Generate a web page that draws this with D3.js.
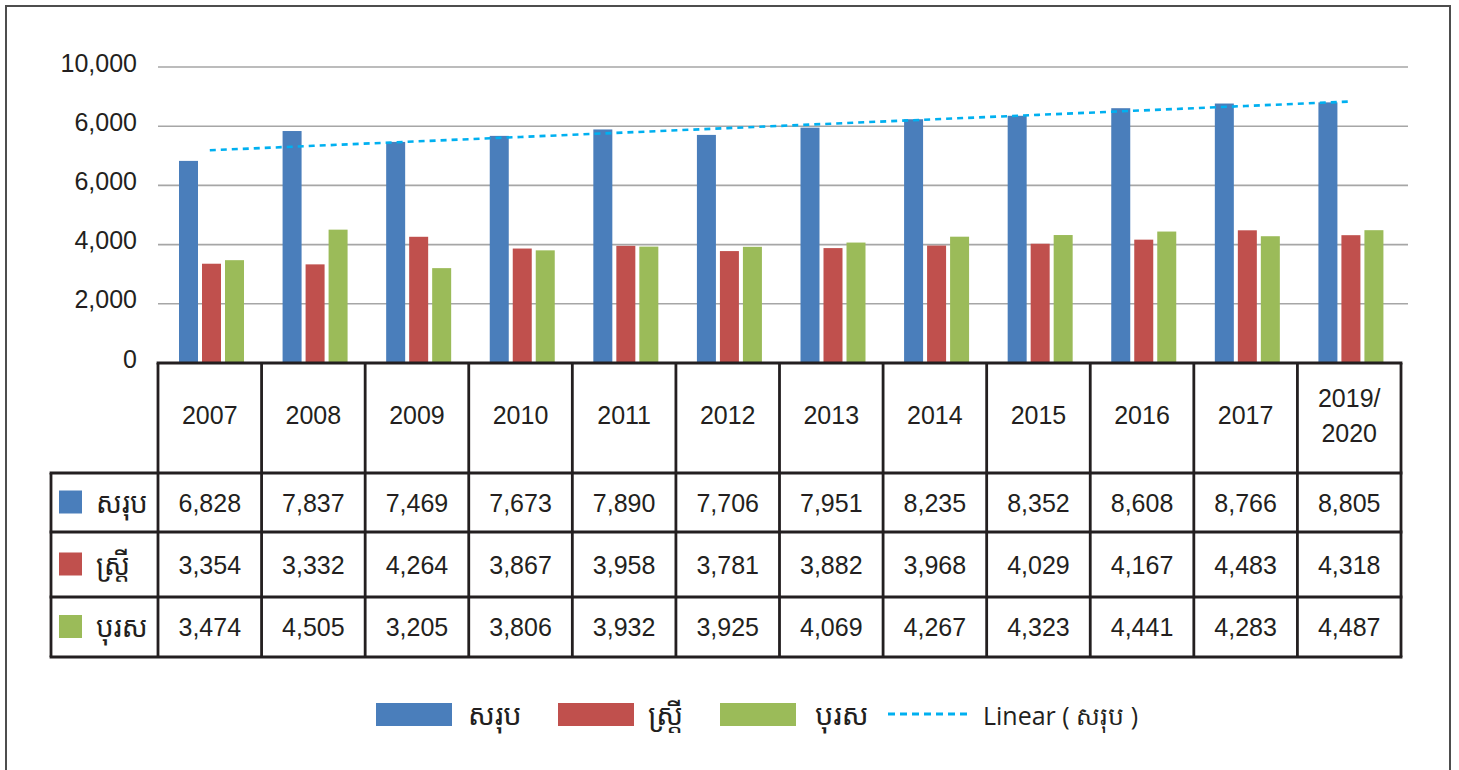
<!DOCTYPE html>
<html>
<head>
<meta charset="utf-8">
<script src="https://cdn.jsdelivr.net/npm/d3@7"></script>
<style>
  body { margin: 0; background: #fff; }
  svg { display: block; }
</style>
</head>
<body>
<div id="chart"></div>
<script>
// données
const categories = ["2007", "2008", "2009", "2010", "2011", "2012", "2013", "2014", "2015", "2016", "2017", "2019/2020"];
const seriesNames = ["សរុប", "ស្ត្រី", "បុរស"];
const total  = [6828, 7837, 7469, 7673, 7890, 7706, 7951, 8235, 8352, 8608, 8766, 8805];
const female = [3354, 3332, 4264, 3867, 3958, 3781, 3882, 3968, 4029, 4167, 4483, 4318];
const male   = [3474, 4505, 3205, 3806, 3932, 3925, 4069, 4267, 4323, 4441, 4283, 4487];
const yTickValues = [0, 2000, 4000, 6000, 8000, 10000];
const yTickLabels = ["0", "2,000", "4,000", "6,000", "6,000", "10,000"];
const trendLabel = "Linear ( សរុប )";

const colors = ["#4A7EBB", "#C0504D", "#9BBB59"];
const trendColor = "#00B0F0";
const values = [total, female, male];

const W = 1459, H = 770;
const numFont = "'Liberation Sans', Arial, sans-serif";
const khFont = "'Khmer OS', 'Noto Sans Khmer', 'Khmer OS System', 'Noto Sans', sans-serif";

const svg = d3.select("#chart").append("svg")
    .attr("width", W)
    .attr("height", H);

// cadre extérieur
svg.append("rect")
    .attr("x", 6).attr("y", 6)
    .attr("width", 1444).attr("height", 820)
    .attr("fill", "none")
    .attr("stroke", "#4d4d4d")
    .attr("stroke-width", 2);

// échelles
const x0 = d3.scaleBand()
    .domain(categories)
    .range([158, 1401]);

const x1 = d3.scaleBand()
    .domain(seriesNames)
    .range([21, 86])
    .paddingInner(0.174);

const y = d3.scaleLinear()
    .domain([0, 10000])
    .range([363, 67]);

// grille
svg.append("g")
    .selectAll("line")
    .data(yTickValues.slice(1))
    .join("line")
    .attr("x1", 158)
    .attr("x2", 1408)
    .attr("y1", d => y(d))
    .attr("y2", d => y(d))
    .attr("stroke", "#A6A6A6")
    .attr("stroke-width", 1.6);

// axe Y
const yAxis = d3.axisLeft(y)
    .tickValues(yTickValues)
    .tickFormat((d, i) => yTickLabels[i])
    .tickSize(0)
    .tickPadding(0);

const gy = svg.append("g")
    .attr("transform", "translate(137,-4)")
    .call(yAxis);
gy.select(".domain").remove();
gy.selectAll("text")
    .attr("font-family", numFont)
    .attr("font-size", 25)
    .attr("fill", "#231F20");

// barres
const groups = svg.append("g")
    .selectAll("g")
    .data(categories)
    .join("g")
    .attr("transform", d => `translate(${x0(d)},0)`);

groups.selectAll("rect")
    .data((d, i) => seriesNames.map((s, k) => ({ key: s, value: values[k][i], k })))
    .join("rect")
    .attr("x", d => x1(d.key))
    .attr("width", x1.bandwidth())
    .attr("y", d => y(d.value))
    .attr("height", d => y(0) - y(d.value))
    .attr("fill", d => colors[d.k]);

// tendance linéaire (moindres carrés sur le total)
const n = total.length;
const mx = (n - 1) / 2;
const my = d3.mean(total);
const slope = d3.sum(total, (v, i) => (i - mx) * (v - my)) / d3.sum(total, (v, i) => (i - mx) * (i - mx));
const trend = categories.map((c, i) => ({ c, v: my + slope * (i - mx) }));

svg.append("path")
    .datum(trend)
    .attr("fill", "none")
    .attr("stroke", trendColor)
    .attr("stroke-width", 2.6)
    .attr("stroke-dasharray", "6,5")
    .attr("d", d3.line()
        .x(d => x0(d.c) + x0.bandwidth() / 2)
        .y(d => y(d.v)));

// tableau de données
const tableTop = 363, headerBottom = 473;
const rowBottoms = [532, 597, 657];
const tableLeft = 51, tableRight = 1401;
const lineColor = "#231F20";
const table = svg.append("g");

// en-têtes
categories.forEach(c => {
    const cx = x0(c) + x0.bandwidth() / 2;
    const t = table.append("text")
        .attr("x", cx)
        .attr("text-anchor", "middle")
        .attr("font-family", numFont)
        .attr("font-size", 25)
        .attr("fill", "#231F20");
    if (c.includes("/")) {
        const parts = c.split("/");
        t.append("tspan").attr("x", cx).attr("y", 407).text(parts[0] + "/");
        t.append("tspan").attr("x", cx).attr("y", 442).text(parts[1]);
    } else {
        t.attr("y", 424).text(c);
    }
});

// lignes de valeurs
const fmt = d3.format(",");
const rowTops = [headerBottom].concat(rowBottoms.slice(0, 2));
seriesNames.forEach((s, k) => {
    const top = rowTops[k], bot = rowBottoms[k];
    const cy = (top + bot) / 2;
    table.append("rect")
        .attr("x", 59).attr("y", cy - 12)
        .attr("width", 23).attr("height", 23)
        .attr("fill", colors[k]);
    table.append("text")
        .attr("x", 96).attr("y", cy + 10)
        .attr("font-family", khFont)
        .attr("font-size", 28)
        .attr("fill", "#231F20")
        .text(s);
    categories.forEach((c, i) => {
        table.append("text")
            .attr("x", x0(c) + x0.bandwidth() / 2)
            .attr("y", cy + 9)
            .attr("text-anchor", "middle")
            .attr("font-family", numFont)
            .attr("font-size", 25)
            .attr("fill", "#231F20")
            .text(fmt(values[k][i]));
    });
});

// traits du tableau
const hLines = [
    [158, tableRight, tableTop],
    [tableLeft, tableRight, headerBottom],
    ...rowBottoms.map(yy => [tableLeft, tableRight, yy])
];
hLines.forEach(([a, b, yy]) => {
    table.append("line")
        .attr("x1", a).attr("x2", b)
        .attr("y1", yy).attr("y2", yy)
        .attr("stroke", lineColor)
        .attr("stroke-width", 2.8)
        .attr("stroke-linecap", "square");
});
table.append("line")
    .attr("x1", tableLeft).attr("x2", tableLeft)
    .attr("y1", headerBottom).attr("y2", rowBottoms[2])
    .attr("stroke", lineColor).attr("stroke-width", 2.8);
categories.concat(["end"]).forEach((c, i) => {
    const xx = i < categories.length ? x0(c) : tableRight;
    table.append("line")
        .attr("x1", xx).attr("x2", xx)
        .attr("y1", tableTop).attr("y2", rowBottoms[2])
        .attr("stroke", lineColor).attr("stroke-width", 2.8);
});

// légende en bas
const legend = svg.append("g");
const legX = [376, 558, 720];
const legTextX = [468, 648, 815];
seriesNames.forEach((s, k) => {
    legend.append("rect")
        .attr("x", legX[k]).attr("y", 703)
        .attr("width", 76).attr("height", 23)
        .attr("fill", colors[k]);
    legend.append("text")
        .attr("x", legTextX[k]).attr("y", 725)
        .attr("font-family", khFont)
        .attr("font-size", 29)
        .attr("fill", "#231F20")
        .text(s);
});
legend.append("line")
    .attr("x1", 888).attr("x2", 970)
    .attr("y1", 714).attr("y2", 714)
    .attr("stroke", trendColor)
    .attr("stroke-width", 3)
    .attr("stroke-dasharray", "7,5");
legend.append("text")
    .attr("x", 983).attr("y", 725)
    .attr("font-family", "'Open Sans', sans-serif")
    .attr("font-size", 25)
    .attr("fill", "#231F20")
    .text(trendLabel);
</script>
</body>
</html>
